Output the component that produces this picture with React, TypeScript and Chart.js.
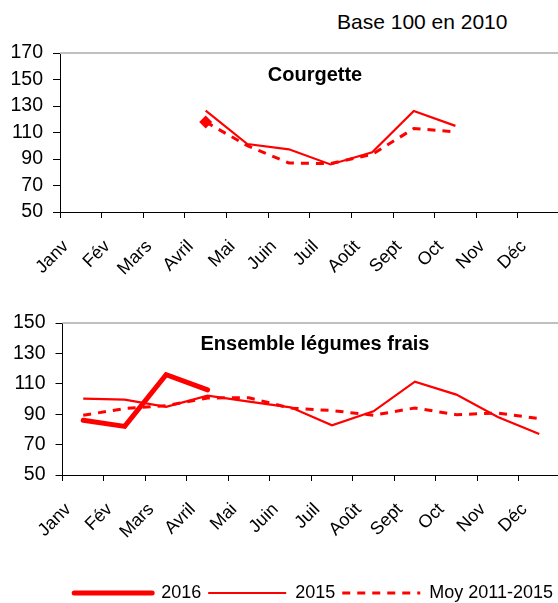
import React, { useEffect, useRef } from "react";
import { Chart, registerables } from "chart.js";

Chart.register(...registerables);

const months = ["Janv", "Fév", "Mars", "Avril", "Mai", "Juin", "Juil", "Août", "Sept", "Oct", "Nov", "Déc"];
const seriesLabels = ["2016", "2015", "Moy 2011-2015"];

const courgetteTitle = "Courgette";
const courgette2016 = [null, null, null, 118, null, null, null, null, null, null, null, null];
const courgette2015 = [null, null, null, 126.5, 101.3, 97.3, 85.9, 95, 126.3, 115, null, null];
const courgetteMoy = [null, null, null, 118, 100, 87, 86.5, 93.5, 113, 110.5, null, null];
const courgetteAxis = [50, 170, 20];

const ensembleTitle = "Ensemble légumes frais";
const ensemble2016 = [86, 82, 116, 106, null, null, null, null, null, null, null, null];
const ensemble2015 = [100.2, 99.6, 94.8, 102.2, 98.3, 94.5, 82.7, 91.9, 111.4, 102.9, 88.2, 77];
const ensembleMoy = [89.3, 93.7, 95.6, 100.7, 100.8, 94, 92.4, 89.3, 94.1, 89.7, 90.8, 87.1];
const ensembleAxis = [50, 150, 20];

const subtitle = "Base 100 en 2010";

const FONT = '"Liberation Sans", Arial, sans-serif';
const RED = "#ff0000";

const panelPlugin = {
  id: "panel",
  beforeDatasetsDraw(chart: any) {
    const { ctx, chartArea } = chart;
    ctx.save();
    ctx.strokeStyle = "#c0c0c0";
    ctx.lineWidth = 2;
    ctx.beginPath();
    ctx.moveTo(chartArea.left, chartArea.top);
    ctx.lineTo(chartArea.right, chartArea.top);
    ctx.stroke();
    ctx.restore();
  },
  afterDraw(chart: any, _args: any, opts: any) {
    const { ctx, chartArea } = chart;
    ctx.save();
    ctx.font = `bold ${opts.size}px ${FONT}`;
    ctx.fillStyle = "#000";
    ctx.textAlign = "center";
    ctx.textBaseline = "alphabetic";
    ctx.fillText(opts.text, opts.x, chartArea.top + opts.dy);
    ctx.restore();
  },
};

function makeOptions(axis: number[], cfg: any) {
  return {
    animation: false,
    responsive: false,
    maintainAspectRatio: false,
    layout: { padding: cfg.padding },
    plugins: {
      legend: cfg.legend,
      tooltip: { enabled: false },
      panel: cfg.panel,
    },
    scales: {
      x: {
        type: "category",
        offset: true,
        grid: { display: true, drawOnChartArea: false, drawTicks: true, tickLength: 6, color: "#000", offset: true },
        border: { display: true, color: "#000", width: 1 },
        ticks: {
          autoSkip: false,
          maxRotation: 45,
          minRotation: 45,
          color: "#000",
          padding: 18,
          labelOffset: -15,
          font: { family: FONT, size: 18, lineHeight: 1.2 },
        },
        afterFit: (s: any) => {
          s.height = cfg.xHeight;
          s.paddingLeft = 0;
          s.paddingRight = 0;
        },
      },
      y: {
        min: axis[0],
        max: axis[1],
        grid: { display: true, drawOnChartArea: false, drawTicks: true, tickLength: 7, color: "#000" },
        border: { display: true, color: "#000", width: 1 },
        ticks: {
          stepSize: axis[2],
          color: "#000",
          padding: 10,
          font: { family: FONT, size: 19.5 },
        },
        afterFit: (s: any) => {
          s.width = cfg.yWidth;
          s.paddingTop = 0;
          s.paddingBottom = 0;
        },
      },
    },
  };
}

function lineDs(label: string, data: (number | null)[], width: number, dash: number[], extra: any = {}) {
  return {
    label,
    data,
    borderColor: RED,
    backgroundColor: RED,
    borderWidth: width,
    borderDash: dash,
    borderCapStyle: width > 3 ? "round" : "butt",
    pointRadius: 0,
    tension: 0,
    spanGaps: false,
    ...extra,
  };
}

const legendLabels = (chart: any) =>
  chart.data.datasets.map((ds: any, i: number) => ({
    text: ds.label,
    datasetIndex: i,
    fillStyle: ds.borderColor,
    strokeStyle: ds.borderColor,
    lineWidth: ds.borderWidth,
    lineDash: ds.borderDash,
    lineCap: ds.borderCapStyle,
    pointStyle: "line",
    hidden: false,
    fontColor: "#000",
  }));

export default function App() {
  const topRef = useRef<HTMLCanvasElement | null>(null);
  const botRef = useRef<HTMLCanvasElement | null>(null);

  useEffect(() => {
    const top = new Chart(topRef.current as HTMLCanvasElement, {
      type: "line",
      data: {
        labels: months,
        datasets: [
          lineDs(seriesLabels[0], courgette2016, 5, [], {
            pointRadius: 6.5,
            pointStyle: "rectRot",
            pointBackgroundColor: RED,
            pointBorderColor: RED,
            pointBorderWidth: 0,
          }),
          lineDs(seriesLabels[1], courgette2015, 2.2, []),
          lineDs(seriesLabels[2], courgetteMoy, 3, [8, 7]),
        ],
      },
      options: makeOptions(courgetteAxis, {
        padding: { top: 53, left: 0, right: 2, bottom: 0 },
        legend: { display: false },
        panel: { text: courgetteTitle, x: 315, dy: 27.5, size: 20 },
        xHeight: 78,
        yWidth: 60,
      }) as any,
      plugins: [panelPlugin],
    });

    const bot = new Chart(botRef.current as HTMLCanvasElement, {
      type: "line",
      data: {
        labels: months,
        datasets: [
          lineDs(seriesLabels[0], ensemble2016, 5, []),
          lineDs(seriesLabels[1], ensemble2015, 2.2, []),
          lineDs(seriesLabels[2], ensembleMoy, 3, [8, 7]),
        ],
      },
      options: makeOptions(ensembleAxis, {
        padding: { top: 33, left: 0, right: 2, bottom: 0 },
        legend: {
          display: true,
          position: "bottom",
          align: "end",
          labels: {
            usePointStyle: true,
            pointStyle: "line",
            pointStyleWidth: 78,
            padding: 7,
            color: "#000",
            font: { family: FONT, size: 18 },
            generateLabels: legendLabels,
          },
        },
        panel: { text: ensembleTitle, x: 315, dy: 27, size: 20 },
        xHeight: 102,
        yWidth: 62.5,
      }) as any,
      plugins: [panelPlugin],
    });

    return () => {
      top.destroy();
      bot.destroy();
    };
  }, []);

  return (
    <div
      style={{
        position: "fixed",
        left: 0,
        top: 0,
        width: 558,
        height: 603,
        overflow: "hidden",
        background: "#fff",
      }}
    >
      <div
        style={{
          position: "absolute",
          left: 337,
          top: 12,
          fontFamily: FONT,
          fontSize: 21,
          lineHeight: "20px",
          color: "#000",
          whiteSpace: "nowrap",
        }}
      >
        {subtitle}
      </div>
      <canvas
        ref={topRef}
        width={566}
        height={290}
        style={{ position: "absolute", left: 0, top: 0, width: 566, height: 290 }}
      />
      <canvas
        ref={botRef}
        width={562}
        height={322}
        style={{ position: "absolute", left: 0, top: 290, width: 562, height: 322 }}
      />
    </div>
  );
}
